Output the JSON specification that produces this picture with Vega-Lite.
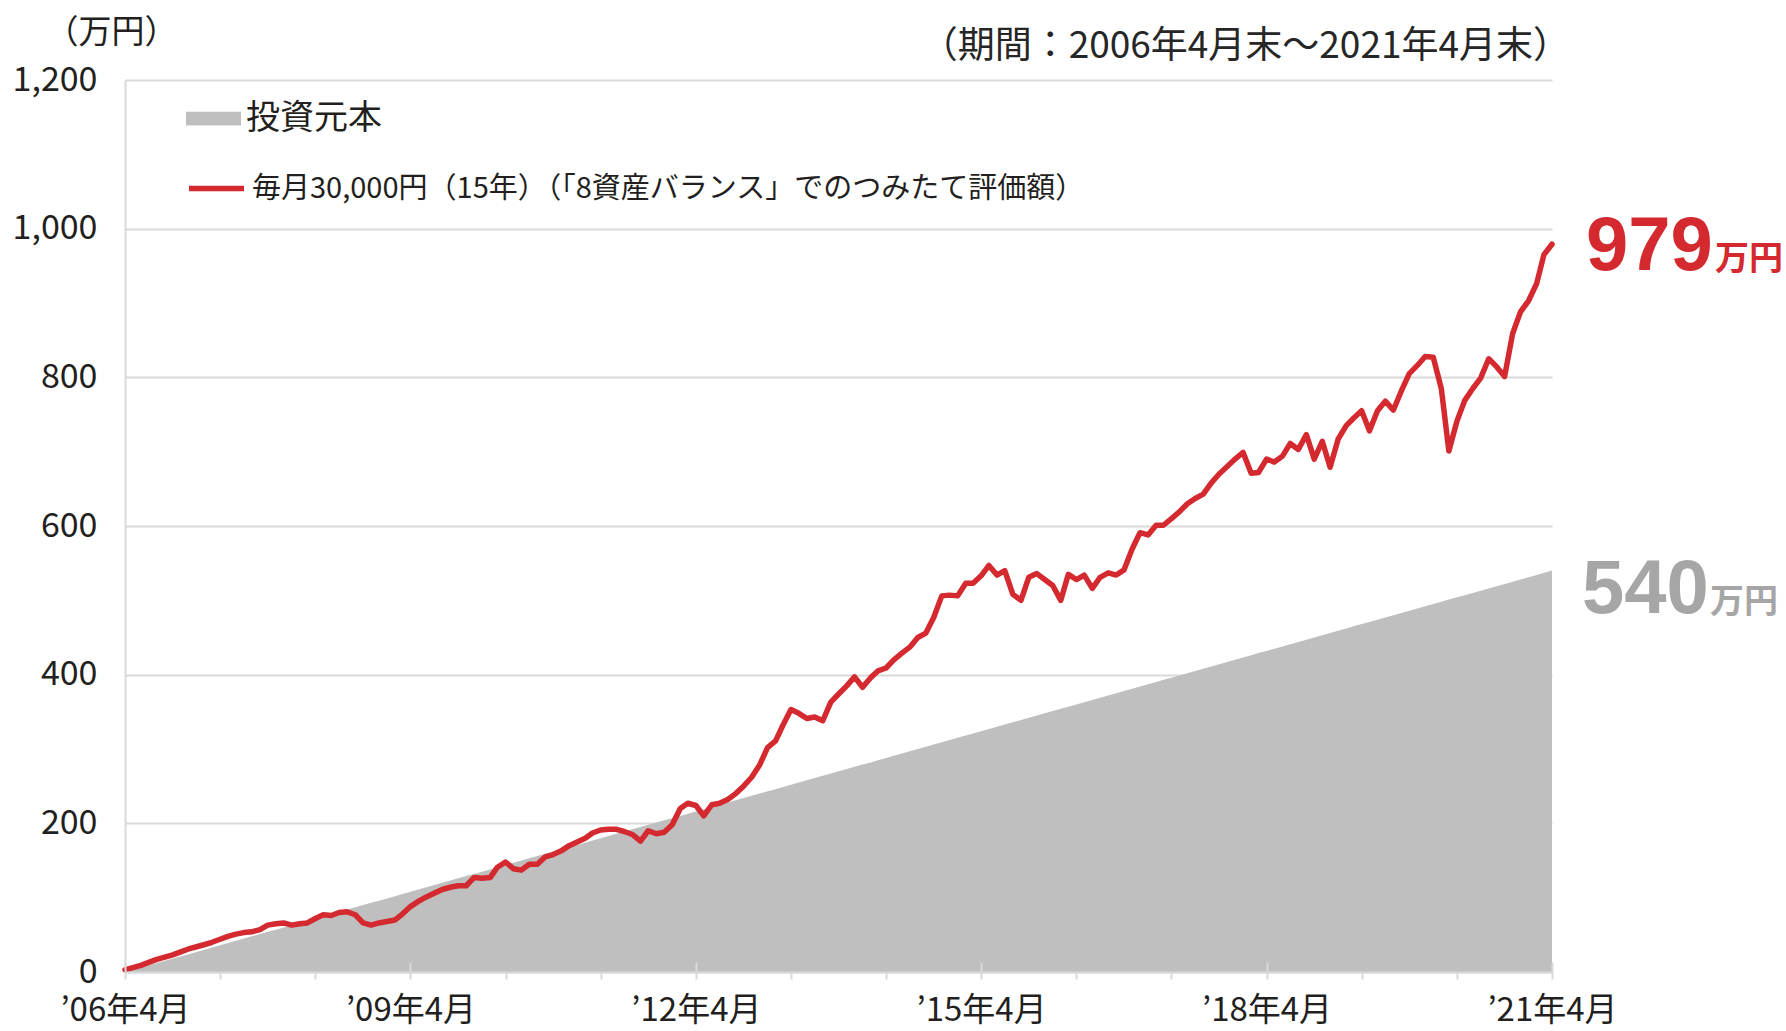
{
  "$schema": "https://vega.github.io/schema/vega-lite/v6.json",
  "width": 1427,
  "height": 892,
  "autosize": {"type": "none"},
  "padding": {"left": 125, "top": 80, "right": 234, "bottom": 59},
  "background": "white",
  "config": {"view": {"stroke": null}, "font": "Noto Sans CJK JP"},
  "title": {
    "text": "（期間：2006年4月末～2021年4月末）",
    "anchor": "end",
    "frame": "group",
    "font": "Noto Sans CJK JP",
    "fontSize": 37,
    "fontWeight": "normal",
    "color": "#262626",
    "offset": 16,
    "dx": 18,
    "dy": 66
  },
  "datasets": {
    "main": [
      {"d":"2006-04-01","inv":0,"val":3},{"d":"2006-05-01","inv":3,"val":6},{"d":"2006-06-01","inv":6,"val":9},{"d":"2006-07-01","inv":9,"val":13},{"d":"2006-08-01","inv":12,"val":17},{"d":"2006-09-01","inv":15,"val":20},{"d":"2006-10-01","inv":18,"val":23},{"d":"2006-11-01","inv":21,"val":27},{"d":"2006-12-01","inv":24,"val":31},
      {"d":"2007-01-01","inv":27,"val":34},{"d":"2007-02-01","inv":30,"val":37},{"d":"2007-03-01","inv":33,"val":40},{"d":"2007-04-01","inv":36,"val":44},{"d":"2007-05-01","inv":39,"val":48},{"d":"2007-06-01","inv":42,"val":51},{"d":"2007-07-01","inv":45,"val":53},{"d":"2007-08-01","inv":48,"val":54},{"d":"2007-09-01","inv":51,"val":57},{"d":"2007-10-01","inv":54,"val":63},{"d":"2007-11-01","inv":57,"val":65},{"d":"2007-12-01","inv":60,"val":66},
      {"d":"2008-01-01","inv":63,"val":63},{"d":"2008-02-01","inv":66,"val":65},{"d":"2008-03-01","inv":69,"val":66},{"d":"2008-04-01","inv":72,"val":72},{"d":"2008-05-01","inv":75,"val":77},{"d":"2008-06-01","inv":78,"val":76},{"d":"2008-07-01","inv":81,"val":80},{"d":"2008-08-01","inv":84,"val":81},{"d":"2008-09-01","inv":87,"val":77},{"d":"2008-10-01","inv":90,"val":66},{"d":"2008-11-01","inv":93,"val":63},{"d":"2008-12-01","inv":96,"val":66},
      {"d":"2009-01-01","inv":99,"val":68},{"d":"2009-02-01","inv":102,"val":70},{"d":"2009-03-01","inv":105,"val":78},{"d":"2009-04-01","inv":108,"val":88},{"d":"2009-05-01","inv":111,"val":95},{"d":"2009-06-01","inv":114,"val":101},{"d":"2009-07-01","inv":117,"val":106},{"d":"2009-08-01","inv":120,"val":111},{"d":"2009-09-01","inv":123,"val":114},{"d":"2009-10-01","inv":126,"val":116},{"d":"2009-11-01","inv":129,"val":116},{"d":"2009-12-01","inv":132,"val":127},
      {"d":"2010-01-01","inv":135,"val":126},{"d":"2010-02-01","inv":138,"val":127},{"d":"2010-03-01","inv":141,"val":141},{"d":"2010-04-01","inv":144,"val":148},{"d":"2010-05-01","inv":147,"val":139},{"d":"2010-06-01","inv":150,"val":137},{"d":"2010-07-01","inv":153,"val":145},{"d":"2010-08-01","inv":156,"val":145},{"d":"2010-09-01","inv":159,"val":155},{"d":"2010-10-01","inv":162,"val":158},{"d":"2010-11-01","inv":165,"val":163},{"d":"2010-12-01","inv":168,"val":170},
      {"d":"2011-01-01","inv":171,"val":175},{"d":"2011-02-01","inv":174,"val":180},{"d":"2011-03-01","inv":177,"val":187},{"d":"2011-04-01","inv":180,"val":191},{"d":"2011-05-01","inv":183,"val":192},{"d":"2011-06-01","inv":186,"val":192},{"d":"2011-07-01","inv":189,"val":189},{"d":"2011-08-01","inv":192,"val":185},{"d":"2011-09-01","inv":195,"val":176},{"d":"2011-10-01","inv":198,"val":190},{"d":"2011-11-01","inv":201,"val":186},{"d":"2011-12-01","inv":204,"val":188},
      {"d":"2012-01-01","inv":207,"val":198},{"d":"2012-02-01","inv":210,"val":220},{"d":"2012-03-01","inv":213,"val":227},{"d":"2012-04-01","inv":216,"val":224},{"d":"2012-05-01","inv":219,"val":210},{"d":"2012-06-01","inv":222,"val":225},{"d":"2012-07-01","inv":225,"val":227},{"d":"2012-08-01","inv":228,"val":232},{"d":"2012-09-01","inv":231,"val":240},{"d":"2012-10-01","inv":234,"val":250},{"d":"2012-11-01","inv":237,"val":262},{"d":"2012-12-01","inv":240,"val":278},
      {"d":"2013-01-01","inv":243,"val":302},{"d":"2013-02-01","inv":246,"val":311},{"d":"2013-03-01","inv":249,"val":332},{"d":"2013-04-01","inv":252,"val":353},{"d":"2013-05-01","inv":255,"val":348},{"d":"2013-06-01","inv":258,"val":341},{"d":"2013-07-01","inv":261,"val":343},{"d":"2013-08-01","inv":264,"val":338},{"d":"2013-09-01","inv":267,"val":363},{"d":"2013-10-01","inv":270,"val":374},{"d":"2013-11-01","inv":273,"val":385},{"d":"2013-12-01","inv":276,"val":397},
      {"d":"2014-01-01","inv":279,"val":383},{"d":"2014-02-01","inv":282,"val":396},{"d":"2014-03-01","inv":285,"val":405},{"d":"2014-04-01","inv":288,"val":409},{"d":"2014-05-01","inv":291,"val":420},{"d":"2014-06-01","inv":294,"val":429},{"d":"2014-07-01","inv":297,"val":437},{"d":"2014-08-01","inv":300,"val":450},{"d":"2014-09-01","inv":303,"val":456},{"d":"2014-10-01","inv":306,"val":477},{"d":"2014-11-01","inv":309,"val":506},{"d":"2014-12-01","inv":312,"val":507},
      {"d":"2015-01-01","inv":315,"val":506},{"d":"2015-02-01","inv":318,"val":523},{"d":"2015-03-01","inv":321,"val":523},{"d":"2015-04-01","inv":324,"val":533},{"d":"2015-05-01","inv":327,"val":547},{"d":"2015-06-01","inv":330,"val":534},{"d":"2015-07-01","inv":333,"val":540},{"d":"2015-08-01","inv":336,"val":508},{"d":"2015-09-01","inv":339,"val":500},{"d":"2015-10-01","inv":342,"val":531},{"d":"2015-11-01","inv":345,"val":536},{"d":"2015-12-01","inv":348,"val":528},
      {"d":"2016-01-01","inv":351,"val":520},{"d":"2016-02-01","inv":354,"val":500},{"d":"2016-03-01","inv":357,"val":535},{"d":"2016-04-01","inv":360,"val":528},{"d":"2016-05-01","inv":363,"val":534},{"d":"2016-06-01","inv":366,"val":516},{"d":"2016-07-01","inv":369,"val":531},{"d":"2016-08-01","inv":372,"val":537},{"d":"2016-09-01","inv":375,"val":534},{"d":"2016-10-01","inv":378,"val":541},{"d":"2016-11-01","inv":381,"val":569},{"d":"2016-12-01","inv":384,"val":591},
      {"d":"2017-01-01","inv":387,"val":588},{"d":"2017-02-01","inv":390,"val":601},{"d":"2017-03-01","inv":393,"val":601},{"d":"2017-04-01","inv":396,"val":610},{"d":"2017-05-01","inv":399,"val":619},{"d":"2017-06-01","inv":402,"val":630},{"d":"2017-07-01","inv":405,"val":637},{"d":"2017-08-01","inv":408,"val":643},{"d":"2017-09-01","inv":411,"val":658},{"d":"2017-10-01","inv":414,"val":670},{"d":"2017-11-01","inv":417,"val":680},{"d":"2017-12-01","inv":420,"val":690},
      {"d":"2018-01-01","inv":423,"val":699},{"d":"2018-02-01","inv":426,"val":671},{"d":"2018-03-01","inv":429,"val":672},{"d":"2018-04-01","inv":432,"val":690},{"d":"2018-05-01","inv":435,"val":686},{"d":"2018-06-01","inv":438,"val":694},{"d":"2018-07-01","inv":441,"val":711},{"d":"2018-08-01","inv":444,"val":703},{"d":"2018-09-01","inv":447,"val":723},{"d":"2018-10-01","inv":450,"val":690},{"d":"2018-11-01","inv":453,"val":714},{"d":"2018-12-01","inv":456,"val":679},
      {"d":"2019-01-01","inv":459,"val":717},{"d":"2019-02-01","inv":462,"val":735},{"d":"2019-03-01","inv":465,"val":745},{"d":"2019-04-01","inv":468,"val":755},{"d":"2019-05-01","inv":471,"val":728},{"d":"2019-06-01","inv":474,"val":755},{"d":"2019-07-01","inv":477,"val":768},{"d":"2019-08-01","inv":480,"val":756},{"d":"2019-09-01","inv":483,"val":782},{"d":"2019-10-01","inv":486,"val":805},{"d":"2019-11-01","inv":489,"val":816},{"d":"2019-12-01","inv":492,"val":828},
      {"d":"2020-01-01","inv":495,"val":827},{"d":"2020-02-01","inv":498,"val":785},{"d":"2020-03-01","inv":501,"val":701},{"d":"2020-04-01","inv":504,"val":741},{"d":"2020-05-01","inv":507,"val":769},{"d":"2020-06-01","inv":510,"val":785},{"d":"2020-07-01","inv":513,"val":799},{"d":"2020-08-01","inv":516,"val":825},{"d":"2020-09-01","inv":519,"val":814},{"d":"2020-10-01","inv":522,"val":801},{"d":"2020-11-01","inv":525,"val":859},{"d":"2020-12-01","inv":528,"val":888},
      {"d":"2021-01-01","inv":531,"val":903},{"d":"2021-02-01","inv":534,"val":926},{"d":"2021-03-01","inv":537,"val":965},{"d":"2021-04-01","inv":540,"val":979}
    ]
  },
  "layer": [
    {
      "data": {"name": "main"},
      "mark": {"type": "area", "opacity": 1},
      "encoding": {
        "x": {
          "field": "d",
          "type": "temporal",
          "scale": {"type": "utc", "domain": [{"year": 2006, "month": 4, "date": 1, "utc": true}, {"year": 2021, "month": 4, "date": 1, "utc": true}]},
          "axis": {
            "title": null,
            "values": [
              {"year": 2006, "month": 4, "date": 1, "utc": true},{"year": 2007, "month": 4, "date": 1, "utc": true},{"year": 2008, "month": 4, "date": 1, "utc": true},{"year": 2009, "month": 4, "date": 1, "utc": true},
              {"year": 2010, "month": 4, "date": 1, "utc": true},{"year": 2011, "month": 4, "date": 1, "utc": true},{"year": 2012, "month": 4, "date": 1, "utc": true},{"year": 2013, "month": 4, "date": 1, "utc": true},
              {"year": 2014, "month": 4, "date": 1, "utc": true},{"year": 2015, "month": 4, "date": 1, "utc": true},{"year": 2016, "month": 4, "date": 1, "utc": true},{"year": 2017, "month": 4, "date": 1, "utc": true},
              {"year": 2018, "month": 4, "date": 1, "utc": true},{"year": 2019, "month": 4, "date": 1, "utc": true},{"year": 2020, "month": 4, "date": 1, "utc": true},{"year": 2021, "month": 4, "date": 1, "utc": true}
            ],
            "labelExpr": "(utcyear(datum.value) - 2006) % 3 === 0 ? '’' + utcFormat(datum.value, '%y') + '年4月' : ''",
            "labelFont": "Noto Sans CJK JP",
            "labelFontSize": 33,
            "labelColor": "#231f20",
            "labelPadding": 15,
            "labelFlush": false,
            "labelOverlap": false,
            "tickSize": 7,
            "tickWidth": 2,
            "tickColor": "#d9d9d9",
            "domainColor": "#d9d9d9",
            "domainWidth": 2,
            "grid": true,
            "gridColor": "#d9d9d9",
            "gridWidth": 2,
            "gridDash": [0, 882, 12, 100],
            "gridOpacity": {"condition": {"test": "(utcyear(datum.value) - 2006) % 3 === 0", "value": 1}, "value": 0},
            "zindex": 1
          }
        },
        "y": {
          "field": "inv",
          "type": "quantitative",
          "scale": {"domain": [0, 1200], "nice": false},
          "axis": {
            "title": "（万円）",
            "titleAngle": 0,
            "titleAlign": "center",
            "titleBaseline": "middle",
            "titleX": -14,
            "titleY": -48,
            "titleFont": "Noto Sans CJK JP",
            "titleFontSize": 33,
            "titleFontWeight": "normal",
            "titleColor": "#231f20",
            "values": [0, 200, 400, 600, 800, 1000, 1200],
            "format": ",.0f",
            "labelFont": "Noto Sans CJK JP",
            "labelFontSize": 34,
            "labelColor": "#231f20",
            "labelPadding": 28,
            "ticks": false,
            "domainColor": "#d9d9d9",
            "domainWidth": 2,
            "grid": true,
            "gridColor": "#d9d9d9",
            "gridWidth": 2,
            "zindex": 0
          }
        },
        "fill": {
          "datum": "投資元本",
          "type": "nominal",
          "scale": {"range": ["#bfbfbf"]},
          "legend": {
            "title": null,
            "orient": "none",
            "direction": "vertical",
            "legendX": 61,
            "legendY": 11,
            "symbolType": "M-1,-0.25H1V0.25H-1Z",
            "symbolSize": 3025,
            "symbolStrokeWidth": 0,
            "symbolOpacity": 1,
            "labelOffset": 5,
            "labelLimit": 2000,
            "labelFont": "Noto Sans CJK JP",
            "labelFontSize": 34,
            "labelColor": "#231f20",
            "labelBaseline": "middle"
          }
        }
      }
    },
    {
      "data": {"name": "main"},
      "mark": {"type": "line", "strokeWidth": 5.5, "strokeCap": "round", "strokeJoin": "round"},
      "encoding": {
        "x": {"field": "d", "type": "temporal"},
        "y": {"field": "val", "type": "quantitative"},
        "stroke": {
          "datum": "毎月30,000円（15年）（「8資産バランス」でのつみたて評価額）",
          "type": "nominal",
          "scale": {"range": ["#d42a2f"]},
          "legend": {
            "title": null,
            "orient": "none",
            "direction": "vertical",
            "legendX": 61,
            "legendY": 78,
            "symbolType": "stroke",
            "symbolSize": 3025,
            "symbolStrokeWidth": 5.5,
            "symbolOpacity": 1,
            "labelOffset": 5,
            "labelLimit": 2000,
            "labelFont": "Noto Sans CJK JP",
            "labelFontSize": 29,
            "labelColor": "#231f20",
            "labelBaseline": "middle"
          }
        }
      }
    },
    {
      "data": {"values": [{"d": "2021-04-01", "v": 979, "t": "979"}]},
      "mark": {"type": "text", "align": "left", "baseline": "alphabetic", "dx": 34, "dy": 26, "font": "Liberation Sans, Arial, sans-serif", "fontSize": 76, "fontWeight": "bold", "color": "#d42a2f"},
      "encoding": {
        "x": {"field": "d", "type": "temporal"},
        "y": {"field": "v", "type": "quantitative"},
        "text": {"field": "t"}
      }
    },
    {
      "data": {"values": [{"d": "2021-04-01", "v": 979, "t": "万円"}]},
      "mark": {"type": "text", "align": "left", "baseline": "alphabetic", "dx": 163, "dy": 26, "font": "Noto Sans CJK JP", "fontSize": 34, "fontWeight": "bold", "color": "#d42a2f"},
      "encoding": {
        "x": {"field": "d", "type": "temporal"},
        "y": {"field": "v", "type": "quantitative"},
        "text": {"field": "t"}
      }
    },
    {
      "data": {"values": [{"d": "2021-04-01", "v": 540, "t": "540"}]},
      "mark": {"type": "text", "align": "left", "baseline": "alphabetic", "dx": 30, "dy": 42, "font": "Liberation Sans, Arial, sans-serif", "fontSize": 76, "fontWeight": "bold", "color": "#a6a6a6"},
      "encoding": {
        "x": {"field": "d", "type": "temporal"},
        "y": {"field": "v", "type": "quantitative"},
        "text": {"field": "t"}
      }
    },
    {
      "data": {"values": [{"d": "2021-04-01", "v": 540, "t": "万円"}]},
      "mark": {"type": "text", "align": "left", "baseline": "alphabetic", "dx": 158, "dy": 42, "font": "Noto Sans CJK JP", "fontSize": 34, "fontWeight": "bold", "color": "#a6a6a6"},
      "encoding": {
        "x": {"field": "d", "type": "temporal"},
        "y": {"field": "v", "type": "quantitative"},
        "text": {"field": "t"}
      }
    }
  ]
}
